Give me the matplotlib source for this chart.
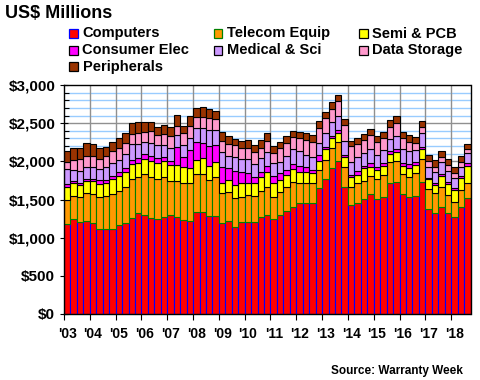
import numpy as np
import matplotlib
matplotlib.use("Agg")
import matplotlib.pyplot as plt
from matplotlib.patches import Rectangle

# ---------------- data (quarterly, 2003 Q1 .. 2018 Q3), US$ millions ----------------
years = ["'03", "'04", "'05", "'06", "'07", "'08", "'09", "'10",
         "'11", "'12", "'13", "'14", "'15", "'16", "'17", "'18"]

computers = [1176, 1241, 1202, 1224, 1189, 1119, 1119, 1119, 1162, 1189,
             1254, 1320, 1294, 1259, 1241, 1267, 1294, 1267, 1232, 1224,
             1342, 1342, 1285, 1285, 1189, 1215, 1136, 1202, 1202, 1202,
             1267, 1298, 1241, 1298, 1355, 1407, 1451, 1460, 1460, 1647,
             1765, 1910, 2006, 1661, 1425, 1451, 1508, 1569, 1508, 1538,
             1722, 1735, 1569, 1530, 1551, 1735, 1381, 1320, 1407, 1320,
             1267, 1407, 1516]
telecom = [319, 306, 336, 358, 385, 411, 433, 454, 454, 481,
           511, 472, 538, 542, 529, 533, 454, 472, 489, 489,
           494, 494, 472, 507, 393, 385, 380, 336, 358, 350,
           350, 363, 288, 302, 306, 319, 262, 253, 253, 240,
           253, 271, 253, 271, 245, 262, 240, 240, 258, 284,
           267, 271, 262, 271, 293, 302, 262, 262, 262, 236,
           205, 218, 197]
semi = [175, 166, 153, 157, 166, 175, 170, 192, 192, 192,
        201, 184, 197, 197, 205, 201, 201, 210, 210, 197,
        175, 205, 184, 205, 140, 157, 170, 175, 162, 162,
        175, 197, 184, 157, 162, 170, 153, 149, 140, 122,
        140, 122, 118, 122, 122, 109, 162, 122, 114, 118,
        109, 118, 109, 109, 114, 131, 127, 114, 144, 149,
        153, 162, 232]
consumer = [35, 35, 31, 35, 35, 44, 35, 48, 52, 52,
            52, 66, 70, 74, 66, 61, 61, 236, 131, 232,
            236, 205, 262, 218, 210, 153, 192, 144, 122, 79,
            74, 87, 96, 87, 66, 66, 74, 61, 35, 70,
            35, 31, 35, 31, 31, 57, 31, 44, 44, 35,
            31, 44, 35, 57, 35, 26, 17, 17, 17, 22,
            22, 22, 31]
medical = [192, 140, 157, 157, 157, 149, 166, 170, 157, 184,
           205, 184, 149, 166, 175, 157, 162, 162, 153, 162,
           188, 188, 210, 197, 184, 162, 175, 175, 184, 170,
           175, 175, 166, 153, 184, 197, 201, 162, 166, 166,
           175, 175, 184, 175, 170, 175, 166, 184, 162, 175,
           162, 166, 184, 170, 149, 175, 144, 153, 157, 140,
           140, 122, 131]
storage = [100, 131, 153, 144, 140, 131, 149, 153, 153, 140,
           131, 144, 131, 153, 131, 135, 166, 122, 153, 153,
           144, 153, 153, 140, 144, 153, 162, 140, 153, 157,
           131, 140, 140, 175, 166, 157, 162, 192, 197, 188,
           197, 179, 197, 210, 210, 170, 175, 184, 162, 153,
           153, 166, 144, 122, 96, 79, 79, 66, 74, 83,
           66, 61, 52]
peripherals = [144, 153, 140, 162, 153, 144, 122, 122, 131, 131,
               144, 140, 135, 122, 109, 122, 109, 135, 101, 131,
               118, 122, 118, 101, 122, 101, 83, 92, 92, 92,
               101, 109, 92, 87, 87, 87, 87, 92, 92, 96,
               79, 87, 79, 87, 66, 79, 79, 83, 79, 79,
               101, 96, 79, 87, 79, 83, 70, 87, 74, 87,
               79, 74, 66]

series_names = ["Computers", "Telecom Equip", "Semi & PCB", "Consumer Elec",
                "Medical & Sci", "Data Storage", "Peripherals"]
series_vals = [computers, telecom, semi, consumer, medical, storage, peripherals]
fills = ["#ff0000", "#ff9900", "#ffff00", "#ff00ff", "#cc99ff", "#ff99cc", "#993300"]
edges = ["#0000ff", "#008000", "#000000", "#000000", "#000000", "#000000", "#000000"]

yticks_vals = [0, 500, 1000, 1500, 2000, 2500, 3000]
ytick_labels = ["$0", "$500", "$1,000", "$1,500", "$2,000", "$2,500", "$3,000"]

# ---------------- figure ----------------
FONT = "Liberation Sans"
plt.rcParams["font.family"] = [FONT, "DejaVu Sans"]

W, H = 480, 380
fig = plt.figure(figsize=(W / 100, H / 100), dpi=100)
L, R, T, B = 64, 470.5, 85, 314
ax = fig.add_axes([L / W, 1 - B / H, (R - L) / W, (B - T) / H])

n = len(computers)
x = np.arange(n)
bottom = np.zeros(n)
for name, vals, fc, ec in zip(series_names, series_vals, fills, edges):
    v = np.array(vals, dtype=float)
    ax.bar(x, v, width=1.0, bottom=bottom, color=fc, edgecolor=ec,
           linewidth=0.8, label=name, zorder=3)
    bottom += v

ax.set_xlim(-0.5, n - 0.5)
ax.set_ylim(0, 3000)

# y axis
ax.set_yticks(yticks_vals)
ax.set_yticklabels(ytick_labels, fontsize=11, fontweight="bold")
ax.set_yticks(np.arange(0, 3001, 100), minor=True)
ax.tick_params(axis="y", which="major", direction="inout", length=5.5,
               width=0.8, pad=3.5)
ax.tick_params(axis="y", which="minor", direction="in", length=3.3, width=0.8)

# x axis: ticks at year boundaries, labels centred on first quarter
boundaries = np.arange(0, n, 4) - 0.5
ax.set_xticks(boundaries)
ax.set_xticklabels([])
ax.set_xticks(np.arange(0, n, 4), minor=True)
ax.set_xticklabels(years, minor=True, fontsize=10, fontweight="bold")
ax.tick_params(axis="x", which="major", direction="out", length=4, width=0.8)
ax.tick_params(axis="x", which="minor", length=0, pad=9)

# grid
for yv in np.arange(100, 3000, 100):
    if yv % 500 == 0:
        ax.axhline(yv, color="#909090", linewidth=1.0, zorder=1)
    else:
        ax.axhline(yv, color="#99ccff", linewidth=1.0, zorder=1)
for xb in boundaries[1:]:
    ax.axvline(xb, color="#909090", linewidth=1.0, zorder=1)

for sp in ax.spines.values():
    sp.set_color("black")
    sp.set_linewidth(1.0)
    sp.set_zorder(5)

# title
fig.text(5 / W, 1 - 13 / H, "US$ Millions", fontsize=13, fontweight="bold",
         ha="left", va="center")

# legend (manual, 3 columns)
col_x = [69, 213.5, 359]
row_y = [33.5, 50.2, 66.8]
positions = [(0, 0), (1, 0), (2, 0), (0, 1), (1, 1), (2, 1), (0, 2)]
for (c, r), name, fc, ec in zip(positions, series_names, fills, edges):
    px, py = col_x[c], row_y[r]
    fig.add_artist(Rectangle((px / W, 1 - (py + 4.3) / H), 8.8 / W, 8.6 / H,
                             facecolor=fc, edgecolor=ec, linewidth=0.9,
                             transform=fig.transFigure))
    fig.text((px + 13.5) / W, 1 - py / H, name, fontsize=10.5,
             fontweight="bold", ha="left", va="center")

# source
fig.text(463 / W, 1 - 371 / H, "Source: Warranty Week", fontsize=8.5,
         fontweight="bold", ha="right", va="center")

fig.savefig("out.png", dpi=100)
